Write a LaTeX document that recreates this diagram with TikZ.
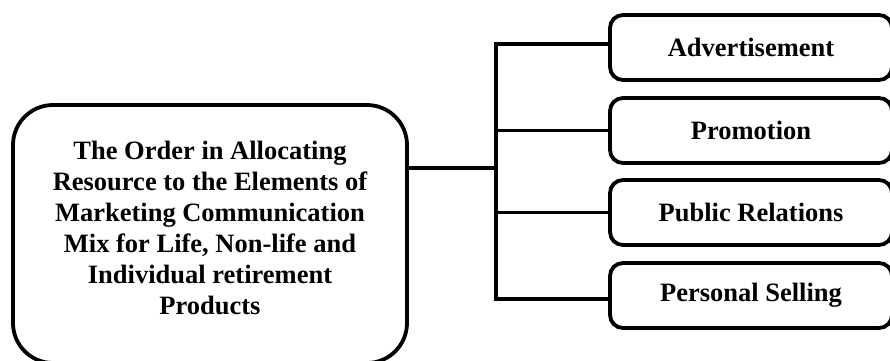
\documentclass[tikz,border=0pt]{standalone}
\usepackage{fontspec}
\setmainfont{Liberation Serif}
\begin{document}
\begin{tikzpicture}[x=1pt,y=-1pt,
  line width=3.8pt,
  bigbox/.style={draw, rounded corners=40pt, minimum width=394pt, minimum height=258pt, inner sep=0pt},
  itembox/.style={draw, rounded corners=13pt, minimum width=282pt, minimum height=65pt, inner sep=0pt,
    font=\fontsize{26.5pt}{31pt}\selectfont\bfseries},
  btext/.style={align=center, inner sep=0pt, font=\fontsize{26.5pt}{31pt}\selectfont\bfseries},
  conn/.style={line width=3.5pt}]
\useasboundingbox (0,0) rectangle (890,360);
\clip (0,0) rectangle (890,360);
\node[bigbox] (big) at (210,234) {};
\node[btext] (bigt) at (210,228) {The Order in Allocating\\Resource to the Elements of\\Marketing Communication\\Mix for Life, Non-life and\\Individual retirement\\Products};
\node[itembox] (b1) at (751,47.5) {Advertisement};
\node[itembox] (b2) at (751,130.5) {Promotion};
\node[itembox] (b3) at (751,212.5) {Public Relations};
\node[itembox] (b4) at (751,295.5) {Personal Selling};
\coordinate (j) at (496,168);
\draw[conn] (big.east |- j) -- (j);
\draw[conn] ([yshift=3.5pt]b1.west) -| ([yshift=-3.5pt]j |- b4.west) -- ([yshift=-3.5pt]b4.west);
\draw[conn] (j |- b2.west) -- (b2.west);
\draw[conn] (j |- b3.west) -- (b3.west);
\end{tikzpicture}
\end{document}
